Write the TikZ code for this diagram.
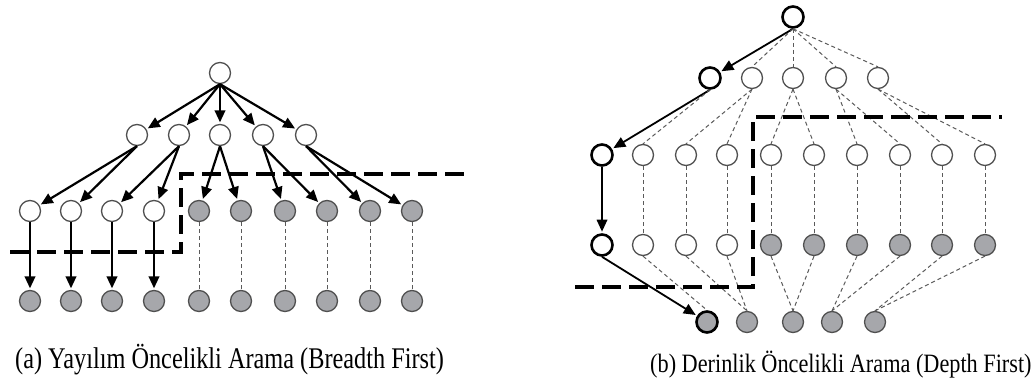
\documentclass[tikz,border=0pt]{standalone}
\usepackage{fontspec}
\usepackage{graphicx}
\setmainfont{Liberation Serif}
\newfontfamily\capfont{Liberation Serif}
\usetikzlibrary{arrows.meta}
\definecolor{nodegray}{RGB}{166,167,171}
\definecolor{rimgray}{RGB}{80,80,80}
\definecolor{dashgray}{RGB}{90,90,90}
\begin{document}
\begin{tikzpicture}[x=1pt,y=-1pt,
  wn/.style={circle,draw=rimgray,line width=1.3pt,fill=white,minimum size=21pt,inner sep=0pt},
  gn/.style={wn,fill=nodegray},
  boldrim/.style={line width=2.6pt,draw=black},
  arr/.style={line width=2.2pt,shorten >=1.5pt,-{Triangle[length=12pt,width=10.5pt]}},
  arrb/.style={arr,line width=1.8pt},
  thindash/.style={line width=1pt,draw=dashgray,dash pattern=on 4pt off 3pt},
  fence/.style={line width=4.5pt,dash pattern=on 19pt off 8pt},
  captxt/.style={anchor=base west,inner sep=0pt}
]
\useasboundingbox (0,0) rectangle (1035,379);

% ---------------- (a) Breadth first ----------------
\node[wn] (a0) at (220,73) {};
\foreach \x [count=\i] in {137,179,220,263,306}
  \node[wn] (a1-\i) at (\x,135) {};
\foreach \x [count=\i] in {30,71,112,154,199,241,285,327,370,412} {
  \ifnum\i<5
    \node[wn] (a2-\i) at (\x,211) {};
  \else
    \node[gn] (a2-\i) at (\x,211) {};
  \fi
  \node[gn] (a3-\i) at (\x,301) {};
}
\foreach \i in {1,...,5}
  \draw[arr] (a0.south) -- (a1-\i);
\foreach \p/\c in {1/1,1/2,2/3,2/4,3/5,3/6,4/7,4/8,5/9,5/10}
  \draw[arr] (a1-\p.south) -- (a2-\c);
\foreach \i in {1,...,4}
  \draw[arr] (a2-\i) -- (a3-\i);
\foreach \i in {5,...,10}
  \draw[thindash] (a2-\i.south) -- (a3-\i.north);
\draw[fence] (10,252) -- (181,252) -- (181,174) -- (470,174);

% ---------------- (b) Depth first ----------------
\node[wn,boldrim] (b0) at (793,17) {};
\foreach \x [count=\i] in {710,752,793,836,878} {
  \ifnum\i=1
    \node[wn,boldrim] (b1-\i) at (\x,78) {};
  \else
    \node[wn] (b1-\i) at (\x,78) {};
  \fi
}
\foreach \x [count=\i] in {602,643,686,727,771,814,857,900,942,985} {
  \ifnum\i=1
    \node[wn,boldrim] (b2-\i) at (\x,155) {};
    \node[wn,boldrim] (b3-\i) at (\x,245) {};
  \else
    \node[wn] (b2-\i) at (\x,155) {};
    \ifnum\i<5
      \node[wn] (b3-\i) at (\x,245) {};
    \else
      \node[gn] (b3-\i) at (\x,245) {};
    \fi
  \fi
}
\foreach \x [count=\i] in {707,747,793,832,875} {
  \ifnum\i=1
    \node[gn,boldrim] (b4-\i) at (\x,322) {};
  \else
    \node[gn] (b4-\i) at (\x,322) {};
  \fi
}
\draw[arrb] (b0.south) -- (b1-1);
\foreach \i in {2,...,5}
  \draw[thindash] (b0.south) -- (b1-\i.north);
\draw[arrb] (b1-1.south) -- (b2-1);
\foreach \p/\c in {1/2,2/3,2/4,3/5,3/6,4/7,4/8,5/9,5/10}
  \draw[thindash] (b1-\p.south) -- (b2-\c.north);
\draw[arrb] (b2-1) -- (b3-1);
\foreach \i in {2,...,10}
  \draw[thindash] (b2-\i.south) -- (b3-\i.north);
\draw[arrb] (b3-1.south) -- (b4-1);
\foreach \p/\c in {2/1,3/2,4/2,5/3,6/3,7/4,8/4,9/5,10/5}
  \draw[thindash] (b3-\p.south) -- (b4-\c.north);
\draw[fence] (575,287) -- (753,287) -- (753,117) -- (1002,117);

% ---------------- captions ----------------
\node[captxt] (capa) at (15,368) {\capfont\fontsize{30}{36}\selectfont\scalebox{0.81}[1]{(a) Yayılım Öncelikli Arama (Breadth First)}};
\node[captxt] (capb) at (650,372) {\capfont\fontsize{26.5}{32}\selectfont\scalebox{0.84}[1]{(b) Derinlik Öncelikli Arama (Depth First)}};
\end{tikzpicture}
\end{document}
